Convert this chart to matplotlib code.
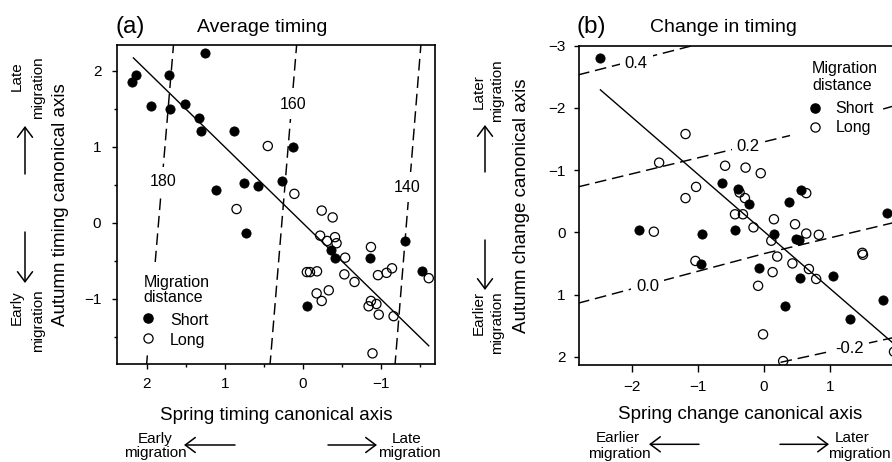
import matplotlib
matplotlib.use('Agg')
import matplotlib.pyplot as plt
from matplotlib.patches import FancyArrowPatch, Rectangle
from matplotlib.lines import Line2D

plt.rcParams['font.family'] = ['Liberation Sans', 'DejaVu Sans']

# ---------------- data: panel (a) Average timing ----------------
a_short_x = [2.19, 2.14, 1.72, 1.26, 1.94, 1.70, 1.51, 1.33, 1.31, 0.88, 0.13,
             1.11, 0.76, 0.58, 0.27, 0.73, -1.31, -0.36, -0.41, -0.86, -1.53, -0.055]
a_short_y = [1.85, 1.95, 1.94, 2.23, 1.54, 1.50, 1.56, 1.38, 1.21, 1.21, 1.00,
             0.43, 0.52, 0.49, 0.55, -0.13, -0.24, -0.36, -0.46, -0.47, -0.64, -1.09]
a_long_x = [0.45, 0.11, 0.85, -0.24, -0.38, -0.22, -0.31, -0.41, -0.43, -0.87,
            -0.54, -0.05, -0.09, -0.18, -0.53, -0.66, -0.96, -1.07, -1.14, -1.61,
            -0.33, -0.175, -0.24, -0.87, -0.94, -0.84, -0.97, -1.16, -0.89]
a_long_y = [1.01, 0.38, 0.18, 0.16, 0.07, -0.17, -0.24, -0.19, -0.27, -0.32,
            -0.46, -0.65, -0.65, -0.64, -0.68, -0.78, -0.69, -0.66, -0.60, -0.73,
            -0.89, -0.93, -1.03, -1.03, -1.07, -1.10, -1.21, -1.23, -1.72]
a_fit_x = [2.17, -1.61]
a_fit_y = [2.17, -1.62]
a_contour_levels = ['180', '160', '140']
a_contour_x = [[2.004, 1.652], [0.424, 0.076], [-1.176, -1.514]]
a_contour_y = [[-1.9, 2.4], [-1.9, 2.4], [-1.9, 2.4]]
a_contour_label_x = [1.79, 0.125, -1.33]
a_contour_label_y = [0.54, 1.56, 0.47]
a_xticks = [2, 1, 0, -1]
a_yticks = [-1, 0, 1, 2]
a_xminor = [1.5, 0.5, -0.5, -1.5]
a_yminor = [1.5, 0.5, -0.5, -1.5]

# ---------------- data: panel (b) Change in timing ----------------
b_short_x = [-2.49, -0.63, -0.39, 0.56, 0.38, -0.23, 1.86, -1.90, -0.94, -0.44,
             0.15, 0.49, 0.53, -0.95, -0.07, 0.54, 1.05, 0.32, 1.30, 1.81]
b_short_y = [-2.80, -0.80, -0.70, -0.68, -0.48, -0.46, -0.31, -0.04, 0.03, -0.04,
             0.03, 0.10, 0.12, 0.51, 0.57, 0.73, 0.71, 1.18, 1.40, 1.09]
b_long_x = [-1.19, -1.59, -0.59, -0.28, -0.05, -1.03, -1.19, -0.37, -0.29, 0.64,
            -0.44, -0.32, -1.67, -0.16, 0.15, 0.47, 0.64, 0.83, 0.11, 0.20,
            -1.04, 0.43, 0.13, 0.68, 0.79, -0.09, 1.49, 1.50, -0.015, 0.29, 1.97]
b_long_y = [-1.58, -1.12, -1.07, -1.04, -0.95, -0.73, -0.55, -0.64, -0.55, -0.63,
            -0.29, -0.29, -0.01, -0.08, -0.21, -0.13, 0.02, 0.04, 0.135, 0.39,
            0.46, 0.50, 0.64, 0.59, 0.75, 0.86, 0.33, 0.36, 1.64, 2.07, 1.92]
b_fit_x = [-2.48, 2.10]
b_fit_y = [-2.29, 1.914]
b_contour_levels = ['0.4', '0.2', '0.0', '-0.2']
b_contour_x = [[-2.82, -1.05], [-2.82, 0.41, 1.93, 2.10], [-2.82, 0.01, 2.10], [0.25, 1.93, 2.10]]
b_contour_y = [[-2.53, -3.01], [-0.73, -1.56, -2.02, -2.07], [1.14, 0.34, -0.19], [2.09, 1.70, 1.66]]
b_contour_label_x = [-1.94, -0.24, -1.76, 1.30]
b_contour_label_y = [-2.72, -1.38, 0.87, 1.87]
b_xticks = [-2, -1, 0, 1]
b_yticks = [-3, -2, -1, 0, 1, 2]

# ---------------- figure ----------------
W, H = 892, 462
fig = plt.figure(figsize=(W / 100, H / 100), dpi=100)


def fx(px):
    return px / W


def fy(py):
    return 1 - py / H


axa = fig.add_axes([fx(117), fy(364), 318 / W, 319 / H])
axb = fig.add_axes([fx(579.3), fy(365), 318 / W, 319.3 / H])

for ax in (axa, axb):
    for s in ax.spines.values():
        s.set_linewidth(1.2)

dash = (0, (8, 4))
lab_bbox = dict(boxstyle='square,pad=0.45', fc='white', ec='none')

# ---- panel (a)
for cx, cy in zip(a_contour_x, a_contour_y):
    axa.plot(cx, cy, color='black', lw=1.05, ls=dash, zorder=1.5)
for lev, lx, ly in zip(a_contour_levels, a_contour_label_x, a_contour_label_y):
    axa.text(lx, ly, lev, fontsize=11.5, ha='center', va='center', bbox=lab_bbox, zorder=2)
axa.plot(a_fit_x, a_fit_y, color='black', lw=1.0, zorder=2.2)
axa.scatter(a_short_x, a_short_y, s=44, c='black', edgecolors='black', linewidths=0.6, zorder=3)
axa.scatter(a_long_x, a_long_y, s=44, facecolors='none', edgecolors='black', linewidths=0.9, zorder=3.2)
axa.set_xlim(2.38, -1.69)
axa.set_ylim(-1.86, 2.34)
axa.set_xticks(a_xticks)
axa.set_xticklabels(['2', '1', '0', '\u22121'])
axa.set_yticks(a_yticks)
axa.set_yticklabels(['\u22121', '0', '1', '2'])
axa.set_xticks(a_xminor, minor=True)
axa.set_yticks(a_yminor, minor=True)
axa.tick_params(which='major', direction='out', length=3.8, width=1.0, labelsize=11)
axa.tick_params(which='minor', direction='out', length=2.0, width=1.0)
axa.tick_params(axis='x', which='major', pad=5.5)
axa.tick_params(axis='y', which='major', pad=7.5)
axa.set_xlabel('Spring timing canonical axis', fontsize=13.5, va='baseline')
axa.xaxis.set_label_coords(0.501, -0.1755)
axa.set_ylabel('Autumn timing canonical axis', fontsize=13.5, va='center')
axa.yaxis.set_label_coords(-0.179, 0.5)

# legend (a)
axa.add_patch(Rectangle((0.066, 0.031), 0.233, 0.289, transform=axa.transAxes,
                        fc='white', ec='none', zorder=4))


def ax_pt(ax, px, py, left, bottom, w, h):
    return ((px - left) / w, (bottom - py) / h)


def legend_manual(ax, left, bottom, w, h, title_x, title_b1, title_b2, mk_x, mk_y1, mk_y2,
                  txt_x, txt_b1, txt_b2):
    p = lambda px, py: ax_pt(ax, px, py, left, bottom, w, h)
    ax.text(*p(title_x, title_b1), 'Migration', transform=ax.transAxes, fontsize=11.5,
            ha='left', va='baseline', zorder=5)
    ax.text(*p(title_x, title_b2), 'distance', transform=ax.transAxes, fontsize=11.5,
            ha='left', va='baseline', zorder=5)
    ax.add_line(Line2D([p(mk_x, mk_y1)[0]], [p(mk_x, mk_y1)[1]], transform=ax.transAxes,
                       marker='o', ls='', ms=6.6, mfc='black', mec='black', zorder=5))
    ax.add_line(Line2D([p(mk_x, mk_y2)[0]], [p(mk_x, mk_y2)[1]], transform=ax.transAxes,
                       marker='o', ls='', ms=6.6, mfc='none', mec='black', mew=0.9, zorder=5))
    ax.text(*p(txt_x, txt_b1), 'Short', transform=ax.transAxes, fontsize=11.5,
            ha='left', va='baseline', zorder=5)
    ax.text(*p(txt_x, txt_b2), 'Long', transform=ax.transAxes, fontsize=11.5,
            ha='left', va='baseline', zorder=5)


legend_manual(axa, 117, 364, 318, 319, 143.3, 286.7, 302, 148.3, 318.3, 338.3, 170, 325, 345)

# ---- panel (b)
for cx, cy in zip(b_contour_x, b_contour_y):
    axb.plot(cx, cy, color='black', lw=1.05, ls=dash, zorder=1.5)
for lev, lx, ly in zip(b_contour_levels, b_contour_label_x, b_contour_label_y):
    axb.text(lx, ly, lev, fontsize=12, ha='center', va='center',
             bbox=dict(boxstyle='square,pad=0.3', fc='white', ec='none'), zorder=2)
axb.plot(b_fit_x, b_fit_y, color='black', lw=1.0, zorder=2.2)
axb.scatter(b_short_x, b_short_y, s=44, c='black', edgecolors='black', linewidths=0.6, zorder=3)
axb.scatter(b_long_x, b_long_y, s=44, facecolors='none', edgecolors='black', linewidths=0.9, zorder=3.2)
axb.set_xlim(-2.80, 2.02)
axb.set_ylim(2.133, -3.0)
axb.set_xticks(b_xticks)
axb.set_xticklabels(['\u22122', '\u22121', '0', '1'])
axb.set_yticks(b_yticks)
axb.set_yticklabels(['\u22123', '\u22122', '\u22121', '0', '1', '2'])
axb.tick_params(which='major', direction='out', width=1.0, labelsize=11)
axb.tick_params(axis='x', length=5.0, pad=6)
axb.tick_params(axis='y', length=3.4, pad=6.5)
axb.set_xlabel('Spring change canonical axis', fontsize=13.5, va='baseline')
axb.xaxis.set_label_coords(0.505, -0.170)
axb.set_ylabel('Autumn change canonical axis', fontsize=13.5, va='center')
axb.yaxis.set_label_coords(-0.181, 0.5)

axb.add_patch(Rectangle((0.6626, 0.7047), 0.276, 0.266, transform=axb.transAxes,
                        fc='white', ec='none', zorder=4))
legend_manual(axb, 579.3, 365, 318, 319.3, 812, 73.3, 90, 815.3, 108.3, 127.3, 835.3, 112.7, 131.7)

# ---- titles
fig.text(fx(115), fy(33), '(a)', fontsize=17.5, ha='left', va='baseline')
fig.text(fx(197), fy(32), 'Average timing', fontsize=14, ha='left', va='baseline')
fig.text(fx(576), fy(33), '(b)', fontsize=17.5, ha='left', va='baseline')
fig.text(fx(650), fy(32), 'Change in timing', fontsize=14, ha='left', va='baseline')


# ---- direction annotations
def arrow(x0, y0, x1, y1):
    fig.add_artist(FancyArrowPatch((fx(x0), fy(y0)), (fx(x1), fy(y1)),
                                   transform=fig.transFigure,
                                   arrowstyle='->,head_length=0.4,head_width=0.3',
                                   mutation_scale=18, lw=1.1, color='black',
                                   shrinkA=0, shrinkB=0))


def vtext(px, py, s):
    fig.text(fx(px), fy(py), s, fontsize=11, rotation=90, ha='center', va='center')


def htext(px, pyb, s):
    fig.text(fx(px), fy(pyb), s, fontsize=11, ha='center', va='baseline')


# panel (a) vertical
vtext(17, 76, 'Late')
vtext(38, 88, 'migration')
arrow(25, 174, 25, 126)
arrow(25, 232, 25, 283)
vtext(17, 308, 'Early')
vtext(38, 320.5, 'migration')
# panel (a) horizontal
htext(155, 442.7, 'Early')
htext(155.5, 457.3, 'migration')
arrow(235, 445, 184, 445)
arrow(328, 445, 377, 445)
htext(406.7, 442.7, 'Late')
htext(409, 457.3, 'migration')

# panel (b) vertical
vtext(479, 92, 'Later')
vtext(497, 91, 'migration')
arrow(485, 172, 485, 125)
arrow(485, 240, 485, 290)
vtext(479, 313, 'Earlier')
vtext(497, 322.5, 'migration')
# panel (b) horizontal
htext(617.5, 441.7, 'Earlier')
htext(619.5, 458.3, 'migration')
arrow(699, 444.3, 649, 444.3)
arrow(780, 444.3, 829, 444.3)
htext(851.7, 441.7, 'Later')
htext(859, 458.3, 'migration')

fig.savefig('out.png', dpi=100)
